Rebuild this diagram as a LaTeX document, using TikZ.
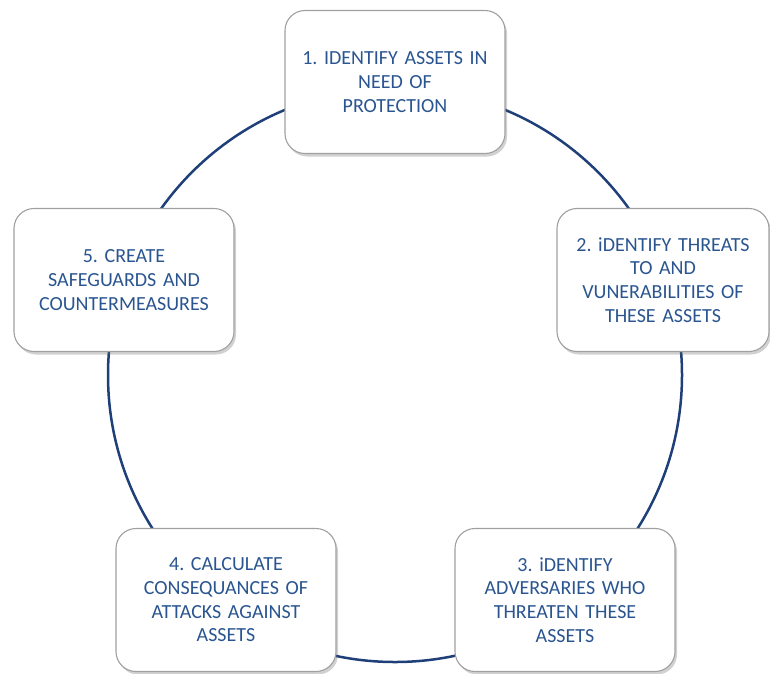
\documentclass[tikz,border=0pt]{standalone}
\usepackage{fontspec}
\setmainfont{Carlito}
\frenchspacing
\usetikzlibrary{shadows}
\definecolor{txtblue}{HTML}{2A5590}
\definecolor{ringblue}{HTML}{1F3F78}
\definecolor{boxedge}{HTML}{A0A0A0}
\tikzset{
  stepbox/.style={draw=boxedge, line width=1.1pt, fill=white, rounded corners=20pt,
    minimum width=220pt, minimum height=143pt, text width=205pt, align=center,
    text=txtblue, font=\fontsize{20}{23.7}\selectfont,
    drop shadow={shadow xshift=2pt, shadow yshift=-3pt, opacity=0.3, fill=black!60}},
  ring/.style={draw=ringblue, line width=2.5pt}
}
\begin{document}
\begin{tikzpicture}[x=1pt,y=-1pt]
\useasboundingbox (0,0) rectangle (770,673);
\coordinate (c) at (395,375);
\draw[ring] (c) circle[radius=287pt];
\node[stepbox] (s1) at (395,82) {1. IDENTIFY ASSETS IN\\NEED OF\\PROTECTION};
\node[stepbox, minimum width=212pt, text width=205pt] (s2) at (663,280) {2. iDENTIFY THREATS\\TO AND\\VUNERABILITIES OF\\THESE ASSETS};
\node[stepbox] (s3) at (565,600) {3. iDENTIFY\\ADVERSARIES WHO\\THREATEN THESE\\ASSETS};
\node[stepbox] (s4) at (226,600) {4. CALCULATE\\CONSEQUANCES OF\\ATTACKS AGAINST\\ASSETS};
\node[stepbox] (s5) at (124,280) {5. CREATE\\SAFEGUARDS AND\\COUNTERMEASURES};
\end{tikzpicture}
\end{document}
